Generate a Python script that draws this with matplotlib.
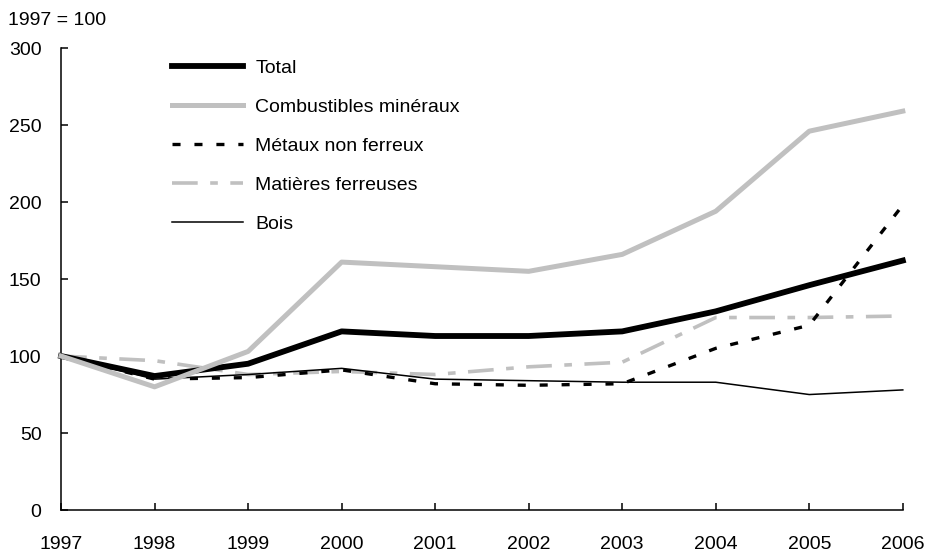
import matplotlib
matplotlib.use('Agg')
import matplotlib.pyplot as plt
from matplotlib import font_manager

names = set(f.name for f in font_manager.fontManager.ttflist)
if 'Liberation Sans Narrow' in names:
    plt.rcParams['font.family'] = ['Liberation Sans Narrow', 'DejaVu Sans']
else:
    plt.rcParams['font.family'] = ['Liberation Sans', 'DejaVu Sans']
plt.rcParams['lines.scale_dashes'] = False

years = [1997, 1998, 1999, 2000, 2001, 2002, 2003, 2004, 2005, 2006]
total = [100, 87, 95, 116, 113, 113, 116, 129, 146, 162]
combustibles = [100, 80, 103, 161, 158, 155, 166, 194, 246, 259]
metaux = [100, 85, 86, 91, 82, 81, 82, 105, 120, 198]
matieres = [100, 97, 88, 90, 88, 93, 96, 125, 125, 126]
bois = [100, 85, 88, 92, 85, 84, 83, 83, 75, 78]

labels = ['Total', 'Combustibles minéraux', 'Métaux non ferreux',
          'Matières ferreuses', 'Bois']

fig = plt.figure(figsize=(9.25, 5.55), dpi=100)
ax = fig.add_axes([0.066, 0.081, 0.910, 0.8325])

l_mat, = ax.plot(years, matieres, color='#c0c0c0', lw=2.6,
                 dashes=(18.5, 9, 5.5, 9), zorder=1, solid_capstyle='butt')
l_met, = ax.plot(years, metaux, color='black', lw=2.4,
                 dashes=(5.8, 10), zorder=2)
l_bois, = ax.plot(years, bois, color='black', lw=1.1, zorder=3)
l_tot, = ax.plot(years, total, color='black', lw=4.2, zorder=4)
l_comb, = ax.plot(years, combustibles, color='#c0c0c0', lw=3.6, zorder=5)

for ln in (l_mat, l_met, l_bois, l_tot, l_comb):
    ln.set_clip_on(False)

ax.set_xlim(1997, 2006)
ax.set_ylim(0, 300)
ax.set_xticks(years)
ax.set_yticks([0, 50, 100, 150, 200, 250, 300])
ax.spines['top'].set_visible(False)
ax.spines['right'].set_visible(False)
ax.spines['left'].set_linewidth(1.1)
ax.spines['bottom'].set_linewidth(1.1)
ax.tick_params(axis='both', direction='in', length=5, width=1.1, labelsize=14)
ax.tick_params(axis='y', pad=14)
ax.tick_params(axis='x', pad=19)

leg = ax.legend([l_tot, l_comb, l_met, l_mat, l_bois], labels,
                loc='upper left', bbox_to_anchor=(0.186, 0.893),
                bbox_transform=fig.transFigure, frameon=False, fontsize=14,
                handlelength=3.66, handletextpad=0.62, labelspacing=1.1,
                borderpad=0, borderaxespad=0)

fig.text(0.009, 0.963, '1997 = 100', fontsize=14, va='center', ha='left')

fig.savefig('out.png', dpi=100)
